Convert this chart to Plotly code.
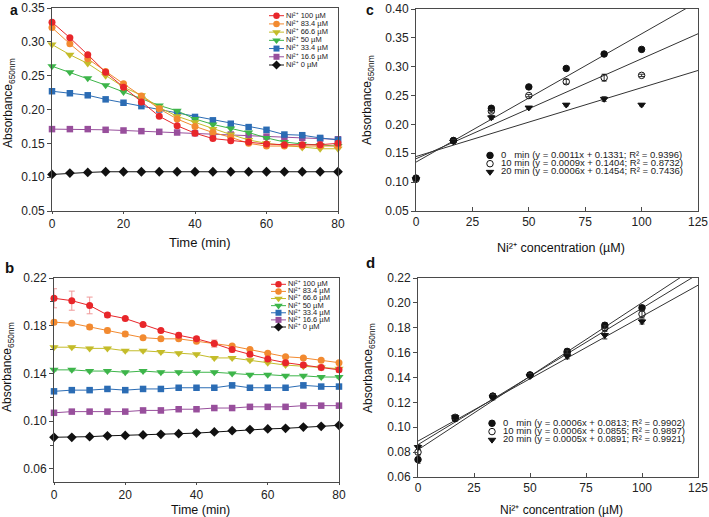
import numpy as np
import plotly.graph_objects as go

W, H = 709, 517
FONT = "Liberation Sans, Arial, sans-serif"

# ---------------- data ----------------
time_min = [0, 5, 10, 15, 20, 25, 30, 35, 40, 45, 50, 55, 60, 65, 70, 75, 80]

series_names = ["Ni²⁺ 100 µM", "Ni²⁺ 83.4 µM", "Ni²⁺ 66.6 µM", "Ni²⁺ 50 µM",
                "Ni²⁺ 33.4 µM", "Ni²⁺ 16.6 µM", "Ni²⁺ 0 µM"]
series_colors = ["#e8262a", "#f28a30", "#c4bc2a", "#3db54a", "#2b6cb4", "#984f9c", "#111111"]
err_colors = ["#f09a9a", "#f7c08f", "#e0dc95", "#9ad8a0", "#93b4dc", "#cda6cf", "#777777"]
series_symbols = ["circle", "circle", "triangle-down", "triangle-down", "square", "square", "diamond"]
series_sizes = [7, 7, 8, 8, 6.5, 6.5, 7.5]

# panel a
a_ni100 = [0.329, 0.306, 0.281, 0.255, 0.233, 0.211, 0.190, 0.176, 0.165, 0.157, 0.154, 0.152, 0.149, 0.148, 0.148, 0.148, 0.150]
a_ni834 = [0.321, 0.297, 0.275, 0.256, 0.238, 0.220, 0.201, 0.186, 0.175, 0.166, 0.159, 0.150, 0.146, 0.146, 0.146, 0.146, 0.146]
a_ni666 = [0.296, 0.281, 0.268, 0.250, 0.233, 0.221, 0.203, 0.190, 0.181, 0.171, 0.163, 0.155, 0.150, 0.147, 0.144, 0.142, 0.142]
a_ni50 = [0.264, 0.255, 0.246, 0.236, 0.226, 0.216, 0.206, 0.198, 0.186, 0.178, 0.172, 0.166, 0.158, 0.152, 0.149, 0.147, 0.146]
a_ni334 = [0.227, 0.224, 0.221, 0.215, 0.210, 0.205, 0.200, 0.195, 0.189, 0.184, 0.179, 0.174, 0.170, 0.163, 0.162, 0.158, 0.155]
a_ni166 = [0.171, 0.171, 0.171, 0.170, 0.169, 0.168, 0.167, 0.166, 0.165, 0.164, 0.163, 0.161, 0.160, 0.159, 0.158, 0.157, 0.156]
a_ni0 = [0.104, 0.106, 0.107, 0.108, 0.108, 0.108, 0.108, 0.108, 0.108, 0.108, 0.108, 0.108, 0.108, 0.108, 0.108, 0.108, 0.108]
a_series = [a_ni100, a_ni834, a_ni666, a_ni50, a_ni334, a_ni166, a_ni0]

# panel b
b_ni100 = [0.203, 0.201, 0.197, 0.189, 0.186, 0.181, 0.176, 0.172, 0.169, 0.165, 0.160, 0.156, 0.152, 0.149, 0.147, 0.145, 0.143]
b_ni834 = [0.183, 0.182, 0.179, 0.176, 0.173, 0.170, 0.169, 0.169, 0.167, 0.165, 0.163, 0.160, 0.157, 0.154, 0.153, 0.151, 0.149]
b_ni666 = [0.162, 0.162, 0.161, 0.161, 0.159, 0.159, 0.158, 0.157, 0.156, 0.153, 0.153, 0.151, 0.149, 0.147, 0.146, 0.145, 0.144]
b_ni50 = [0.143, 0.143, 0.142, 0.142, 0.141, 0.142, 0.141, 0.141, 0.141, 0.141, 0.140, 0.139, 0.139, 0.138, 0.138, 0.137, 0.137]
b_ni334 = [0.125, 0.126, 0.126, 0.127, 0.126, 0.127, 0.127, 0.128, 0.128, 0.128, 0.130, 0.128, 0.128, 0.128, 0.130, 0.129, 0.129]
b_ni166 = [0.107, 0.108, 0.108, 0.108, 0.108, 0.109, 0.109, 0.110, 0.110, 0.111, 0.111, 0.112, 0.112, 0.112, 0.113, 0.113, 0.113]
b_ni0 = [0.0865, 0.0865, 0.087, 0.0877, 0.088, 0.0885, 0.089, 0.0895, 0.090, 0.091, 0.092, 0.093, 0.0935, 0.094, 0.095, 0.0957, 0.0965]
b_series = [b_ni100, b_ni834, b_ni666, b_ni50, b_ni334, b_ni166, b_ni0]

b_ni100_err = [0.008, 0.008, 0.007, 0.002, 0.001, 0.001, 0.001, 0.002, 0.002, 0.003, 0.002, 0.002, 0.002, 0.002, 0.002, 0.002, 0.002]
b_ni834_err = [0.002, 0.001, 0.002, 0.002, 0.002, 0.001, 0.001, 0.001, 0.001, 0.002, 0.001, 0.001, 0.001, 0.001, 0.001, 0.001, 0.001]
b_ni666_err = [0.001, 0.001, 0.001, 0.001, 0.001, 0.001, 0.001, 0.001, 0.001, 0.001, 0.001, 0.001, 0.001, 0.001, 0.001, 0.001, 0.001]
b_ni50_err = [0.001, 0.001, 0.001, 0.001, 0.001, 0.001, 0.001, 0.001, 0.001, 0.001, 0.001, 0.001, 0.001, 0.001, 0.001, 0.001, 0.001]
b_ni334_err = [0.001, 0.001, 0.001, 0.001, 0.001, 0.001, 0.001, 0.001, 0.001, 0.001, 0.002, 0.001, 0.001, 0.001, 0.002, 0.001, 0.001]
b_ni166_err = [0.001, 0.001, 0.001, 0.001, 0.001, 0.001, 0.002, 0.001, 0.001, 0.001, 0.001, 0.001, 0.001, 0.001, 0.001, 0.001, 0.001]
b_ni0_err = [0.001, 0.001, 0.001, 0.001, 0.001, 0.001, 0.001, 0.001, 0.001, 0.001, 0.001, 0.001, 0.001, 0.001, 0.001, 0.001, 0.001]
b_errors = [b_ni100_err, b_ni834_err, b_ni666_err, b_ni50_err, b_ni334_err, b_ni166_err, b_ni0_err]

# panels c and d
conc_um = [0, 16.6, 33.4, 50, 66.6, 83.4, 100]
fit_symbols = ["circle", "circle-open", "triangle-down"]

c_0min = [0.107, 0.172, 0.228, 0.265, 0.297, 0.322, 0.330]
c_10min = [0.105, 0.172, 0.223, 0.250, 0.274, 0.281, 0.285]
c_20min = [0.105, 0.170, 0.212, 0.229, 0.234, 0.244, 0.234]
c_0min_err = [0.002, 0.002, 0.003, 0.002, 0.002, 0.003, 0.002]
c_10min_err = [0.002, 0.002, 0.003, 0.002, 0.004, 0.006, 0.002]
c_20min_err = [0.002, 0.002, 0.003, 0.002, 0.002, 0.004, 0.002]
c_labels = ["0\u00a0\u00a0\u00a0min (y = 0.0011x + 0.1331; R² = 0.9396)",
            "10 min (y = 0.0009x + 0.1404; R² = 0.8732)",
            "20 min (y = 0.0006x + 0.1454; R² = 0.7436)"]

d_0min = [0.074, 0.107, 0.125, 0.142, 0.161, 0.182, 0.196]
d_10min = [0.080, 0.108, 0.125, 0.142, 0.160, 0.180, 0.191]
d_20min = [0.084, 0.108, 0.124, 0.141, 0.157, 0.174, 0.185]
d_0min_err = [0.003, 0.002, 0.002, 0.001, 0.002, 0.002, 0.002]
d_10min_err = [0.002, 0.002, 0.002, 0.001, 0.002, 0.002, 0.003]
d_20min_err = [0.002, 0.002, 0.002, 0.001, 0.002, 0.003, 0.002]
d_labels = ["0\u00a0\u00a0\u00a0min (y = 0.0006x + 0.0813; R² = 0.9902)",
            "10 min (y = 0.0006x + 0.0855; R² = 0.9897)",
            "20 min (y = 0.0005x + 0.0891; R² = 0.9921)"]

# ---------------- helpers ----------------
def fx(p):
    return p / W

def fy(p):
    return 1 - p / H

fig = go.Figure()

AXCOL = "#4a4a4a"
TICKFONT = dict(family=FONT, size=12, color="#222")

def axis(domain, rng, dtick, anchor, fmt=None, ticks="outside", ticklen=4, tick0=None, minor=None):
    d = dict(domain=domain, range=rng, dtick=dtick, anchor=anchor, showline=True,
             linecolor=AXCOL, linewidth=1, mirror=True, ticks=ticks, ticklen=ticklen,
             tickcolor=AXCOL, showgrid=False, zeroline=False, tickfont=TICKFONT,
             fixedrange=True, automargin=False)
    if fmt:
        d["tickformat"] = fmt
    if tick0 is not None:
        d["tick0"] = tick0
    if minor:
        d["minor"] = minor
    return d

# panel a (x, y)
for i in reversed(range(7)):
    fig.add_trace(go.Scatter(x=time_min, y=a_series[i], mode="lines+markers",
                             line=dict(color=series_colors[i], width=1),
                             marker=dict(symbol=series_symbols[i], size=series_sizes[i],
                                         color=series_colors[i]),
                             cliponaxis=False, showlegend=False, xaxis="x", yaxis="y"))
# panel b (x2, y2)
for i in reversed(range(7)):
    fig.add_trace(go.Scatter(x=time_min, y=b_series[i], mode="lines+markers",
                             line=dict(color=series_colors[i], width=1),
                             marker=dict(symbol=series_symbols[i], size=series_sizes[i],
                                         color=series_colors[i]),
                             error_y=dict(type="data", array=b_errors[i], color=err_colors[i],
                                          thickness=1, width=3),
                             cliponaxis=False, showlegend=False, xaxis="x2", yaxis="y2"))

# panels c and d
def fit_panel(xa, ya, ys, errs, xr):
    xs = np.array(conc_um)
    for k in range(3):
        slope, icpt = np.polyfit(xs, np.array(ys[k]), 1)
        fx_line = np.array(xr, dtype=float)
        fig.add_trace(go.Scatter(x=fx_line, y=slope * fx_line + icpt, mode="lines",
                                 line=dict(color="#333", width=1), showlegend=False,
                                 xaxis=xa, yaxis=ya))
    for k in range(3):
        fig.add_trace(go.Scatter(x=conc_um, y=ys[k], mode="markers",
                                 marker=dict(symbol=fit_symbols[k], size=6.5, color="#111",
                                             line=dict(color="#111", width=1)),
                                 error_y=dict(type="data", array=errs[k], color="#333",
                                              thickness=1, width=2.5),
                                 cliponaxis=False, showlegend=False, xaxis=xa, yaxis=ya))

c_x_range = [0, 125]
d_x_range = [0, 125]
fit_panel("x3", "y3", [c_0min, c_10min, c_20min], [c_0min_err, c_10min_err, c_20min_err], c_x_range)
fit_panel("x4", "y4", [d_0min, d_10min, d_20min], [d_0min_err, d_10min_err, d_20min_err], d_x_range)

# ---------------- custom legends (on hidden helper axes in pixel units) ----------------
LEG_W = 130  # width of helper axes, pixels

def line_legend(xa, ya, sample_len=15, text_at=17):
    n = len(series_names)
    for i in range(n):
        fig.add_trace(go.Scatter(x=[0, sample_len], y=[i, i], mode="lines",
                                 line=dict(color=series_colors[i], width=1),
                                 showlegend=False, hoverinfo="skip", xaxis=xa, yaxis=ya))
        fig.add_trace(go.Scatter(x=[sample_len / 2], y=[i], mode="markers",
                                 marker=dict(symbol=series_symbols[i], size=series_sizes[i] - 0.5,
                                             color=series_colors[i]),
                                 cliponaxis=False, showlegend=False, hoverinfo="skip",
                                 xaxis=xa, yaxis=ya))
    fig.add_trace(go.Scatter(x=[text_at] * n, y=list(range(n)), mode="text", text=series_names,
                             textposition="middle right",
                             textfont=dict(family=FONT, size=7.5, color="#222"),
                             cliponaxis=False, showlegend=False, hoverinfo="skip",
                             xaxis=xa, yaxis=ya))

def marker_legend(xa, ya, labels, text_at=15):
    n = len(labels)
    for k in range(n):
        fig.add_trace(go.Scatter(x=[4], y=[k], mode="markers",
                                 marker=dict(symbol=fit_symbols[k], size=6.5, color="#111",
                                             line=dict(color="#111", width=1)),
                                 cliponaxis=False, showlegend=False, hoverinfo="skip",
                                 xaxis=xa, yaxis=ya))
    fig.add_trace(go.Scatter(x=[text_at] * n, y=list(range(n)), mode="text", text=labels,
                             textposition="middle right",
                             textfont=dict(family=FONT, size=9.5, color="#222"),
                             cliponaxis=False, showlegend=False, hoverinfo="skip",
                             xaxis=xa, yaxis=ya))

line_legend("x5", "y5")
line_legend("x6", "y6")
marker_legend("x7", "y7", c_labels)
marker_legend("x8", "y8", d_labels)

def leg_axes(x0, row0, row1, n, anchor_x, anchor_y):
    step = (row1 - row0) / (n - 1)
    xd = dict(visible=False, fixedrange=True, domain=[fx(x0), fx(x0 + LEG_W)],
              range=[0, LEG_W], anchor=anchor_y)
    yd = dict(visible=False, fixedrange=True,
              domain=[fy(row1 + step / 2), fy(row0 - step / 2)],
              range=[n - 0.5, -0.5], anchor=anchor_x)
    return xd, yd

x5, y5 = leg_axes(269, 15.7, 65.0, 7, "x5", "y5")
x6, y6 = leg_axes(271, 284.3, 327.0, 7, "x6", "y6")
x7, y7 = leg_axes(486, 155.4, 172.0, 3, "x7", "y7")
x8, y8 = leg_axes(488, 423.3, 439.9, 3, "x8", "y8")

fig.update_layout(
    template="none",
    width=W, height=H, margin=dict(l=0, r=0, t=0, b=0, pad=0, autoexpand=False),
    paper_bgcolor="white", plot_bgcolor="rgba(0,0,0,0)", showlegend=False,
    font=dict(family=FONT, color="#222"),
    xaxis=axis([fx(52), fx(338)], [0, 80], 20, "y", ticklen=2),
    yaxis=axis([fy(211), fy(8)], [0.05, 0.35], 0.05, "x", ".2f"),
    xaxis2=axis([fx(54), fx(339)], [0, 80], 20, "y2", ticklen=2),
    yaxis2=axis([fy(482), fy(278)], [0.049, 0.22], 0.04, "x2", ".2f", tick0=0.06,
                minor=dict(dtick=0.02, tick0=0.06, ticks="outside", ticklen=3, tickcolor=AXCOL)),
    xaxis3=axis([fx(416), fx(698)], c_x_range, 25, "y3", ticks="inside"),
    yaxis3=axis([fy(211), fy(9)], [0.05, 0.40], 0.05, "x3", ".2f"),
    xaxis4=axis([fx(418), fx(698)], d_x_range, 25, "y4", ticks="inside"),
    yaxis4=axis([fy(477), fy(278)], [0.06, 0.22], 0.02, "x4", ".2f"),
    xaxis5=x5, yaxis5=y5, xaxis6=x6, yaxis6=y6,
    xaxis7=x7, yaxis7=y7, xaxis8=x8, yaxis8=y8,
)

def ann(text, x, y, size, bold=False, angle=0, yanchor="middle"):
    fig.add_annotation(text=f"<b>{text}</b>" if bold else text, xref="paper", yref="paper",
                       x=fx(x), y=fy(y), xanchor="center", yanchor=yanchor,
                       showarrow=False, textangle=angle,
                       font=dict(family=FONT, size=size, color="#111"))

# panel letters
ann("a", 13.5, 0, 14, bold=True, yanchor="top")
ann("b", 9.5, 267, 15, bold=True)
ann("c", 369.5, 0, 14, bold=True, yanchor="top")
ann("d", 370, 262, 15, bold=True)

# axis titles
ann("Time (min)", 200, 243, 13)
ann("Time (min)", 200, 509.5, 12.5)
ann("Ni²⁺ concentration (µM)", 561, 247.5, 12.5)
ann("Ni²⁺ concentration (µM)", 561, 510, 12)
ann("Absorbance<sub>650nm</sub>", 9, 103, 12, angle=-90)
ann("Absorbance<sub>650nm</sub>", 8, 367, 12, angle=-90)
ann("Absorbance<sub>650nm</sub>", 368, 100, 12, angle=-90)
ann("Absorbance<sub>650nm</sub>", 369, 368, 12, angle=-90)

# remove the browser's default page margin so the figure sits at the window's corner
fig.write_html("out.html", config={"displayModeBar": False},
               post_script="document.body.style.margin='0';document.body.style.overflow='hidden';")
